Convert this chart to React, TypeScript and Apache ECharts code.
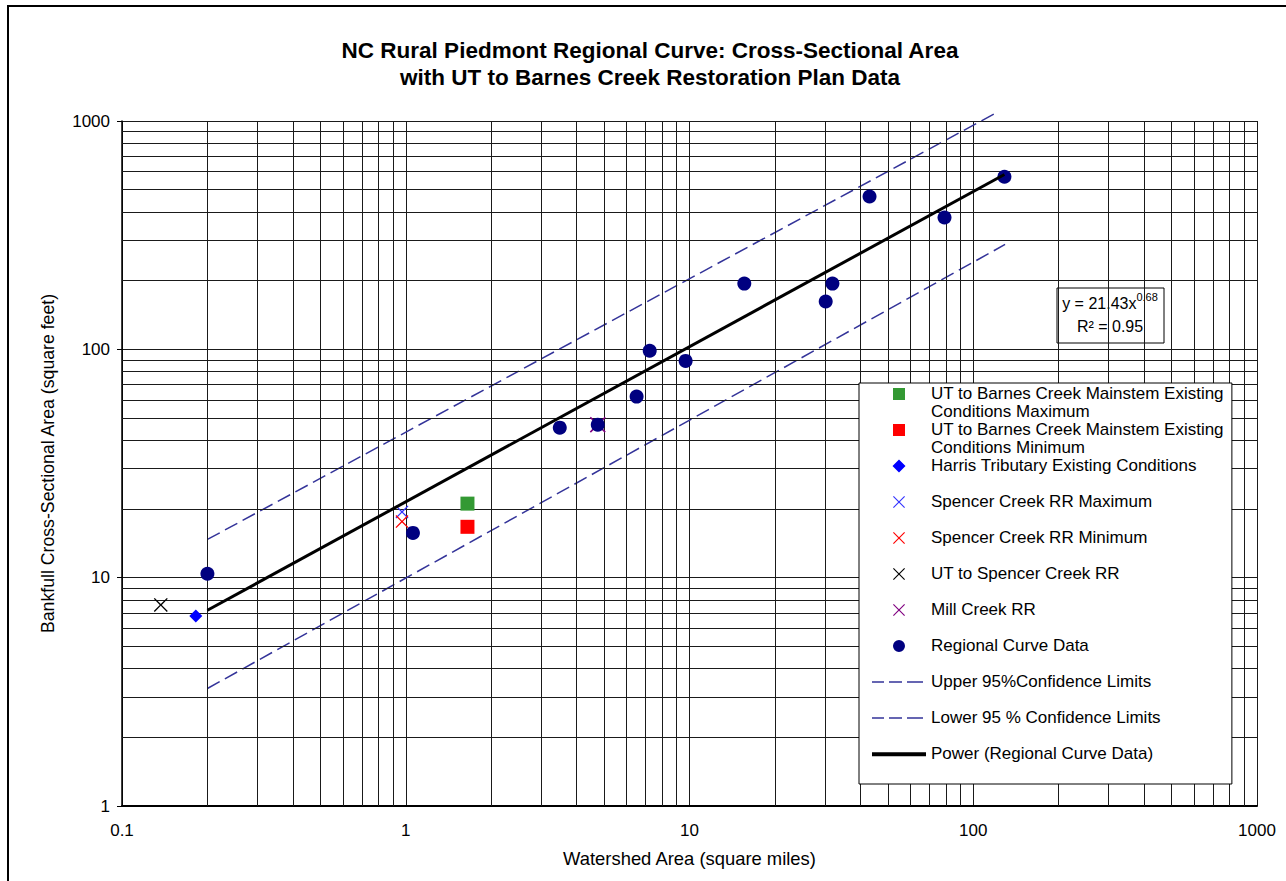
import React, { useEffect, useRef } from "react";
import * as echarts from "echarts";

const FONT = "'Liberation Sans', Arial, Helvetica, sans-serif";

// ---- data ----
const regionalX = [0.2, 1.06, 3.49, 4.75, 6.51, 7.24, 9.69, 15.6, 30.2, 31.9, 43.1, 79.2, 128.8];
const regionalY = [10.4, 15.7, 45.4, 46.8, 62.1, 98.6, 89.0, 194, 162, 194, 467, 378, 570];

const utMaxX = [1.65];
const utMaxY = [21.1];
const utMinX = [1.65];
const utMinY = [16.7];
const harrisX = [0.182];
const harrisY = [6.8];
const spencerMaxX = [0.97];
const spencerMaxY = [19.4];
const spencerMinX = [0.97];
const spencerMinY = [17.6];
const utSpencerX = [0.137];
const utSpencerY = [7.6];
const millX = [4.75];
const millY = [46.8];

const upperX = [0.2, 119];
const upperY = [14.7, 1077];
const lowerX = [0.2, 129.5];
const lowerY = [3.27, 288];
const powerX = [0.2, 128.8];
const powerY = [7.2, 583];

const xTicks = [0.1, 1, 10, 100, 1000];
const yTicks = [1, 10, 100, 1000];
const xMinorGrid = [0.2, 0.3, 0.4, 0.5, 0.6, 0.7, 0.8, 0.9, 2, 3, 4, 5, 6, 7, 8, 9, 20, 30, 40, 50, 60, 70, 80, 90, 200, 300, 400, 500, 600, 700, 800, 900];
const yMinorGrid = [2, 3, 4, 5, 6, 7, 8, 9, 20, 30, 40, 50, 60, 70, 80, 90, 200, 300, 400, 500, 600, 700, 800, 900];

const titleText = "NC Rural Piedmont Regional Curve: Cross-Sectional Area\nwith UT to Barnes Creek Restoration Plan Data";
const xAxisName = "Watershed Area (square miles)";
const yAxisName = "Bankfull Cross-Sectional Area (square feet)";
const names = [
  "UT to Barnes Creek Mainstem Existing\nConditions Maximum",
  "UT to Barnes Creek Mainstem Existing\nConditions Minimum",
  "Harris Tributary Existing Conditions",
  "Spencer Creek RR Maximum",
  "Spencer Creek RR Minimum",
  "UT to Spencer Creek RR",
  "Mill Creek RR",
  "Regional Curve Data",
  "Upper 95%Confidence Limits",
  "Lower 95 % Confidence Limits",
  "Power (Regional Curve Data)",
];
const eqLine1 = "y = 21.43x";
const eqExp = "0.68";
const eqLine2 = "R² = 0.95";

// plot marker shapes
const X_SYMBOL = "path://M0,0.7L0.7,0L5,4.3L9.3,0L10,0.7L5.7,5L10,9.3L9.3,10L5,5.7L0.7,10L0,9.3L4.3,5Z";

// legend icons, each drawn in a 54x36 box (corner strokes fix the box, zero area)
const BOX = "M0,0L0,36M54,0L54,36";
const L_SQUARE = "path://" + BOX + "M21,4h12v12h-12z";
const L_DIAMOND = "path://" + BOX + "M27,3.5L33.5,10L27,16.5L20.5,10Z";
const L_X = "path://" + BOX + "M21,4.8L21.8,4L27,9.2L32.2,4L33,4.8L27.8,10L33,15.2L32.2,16L27,10.8L21.8,16L21,15.2L26.2,10Z";
const L_CIRCLE = "path://" + BOX + "M33,10A6,6 0 1,1 21,10A6,6 0 1,1 33,10Z";
const L_DASH = "path://" + BOX + "M0,9.2h12v1.6h-12zM17,9.2h13v1.6h-13zM35,9.2h16v1.6h-16z";
const L_SOLID = "path://" + BOX + "M0,8h56v4h-56z";
const legendIcons = [L_SQUARE, L_SQUARE, L_DIAMOND, L_X, L_X, L_X, L_X, L_CIRCLE, L_DASH, L_DASH, L_SOLID];

const pairs = (xs: number[], ys: number[]) => xs.map((x, i) => [x, ys[i]]);

export default function App() {
  const ref = useRef<HTMLDivElement>(null);
  useEffect(() => {
    if (!ref.current) return;
    const chart = echarts.init(ref.current, undefined, { renderer: "svg" });
    const scatter = (name: string, xs: number[], ys: number[], symbol: string, size: number, color: string) => ({
      name,
      type: "scatter",
      data: pairs(xs, ys),
      symbol,
      symbolSize: size,
      itemStyle: { color, opacity: 1 },
      z: 5,
      silent: true,
    });
    const gridLine = { color: "#1a1a1a", width: 1, type: "solid" };
    const dash = [14, 6];
    const option: any = {
      animation: false,
      backgroundColor: "#ffffff",
      textStyle: { fontFamily: FONT },
      title: {
        text: titleText,
        left: 650,
        top: 37,
        padding: 0,
        textAlign: "center",
        textStyle: { fontFamily: FONT, fontSize: 22.5, fontWeight: "bold", lineHeight: 27, color: "#000" },
      },
      grid: { left: 122, right: 29, top: 121, bottom: 75, containLabel: false },
      xAxis: {
        type: "log",
        logBase: 10,
        min: xTicks[0],
        max: xTicks[xTicks.length - 1],
        name: xAxisName,
        nameLocation: "middle",
        nameGap: 43,
        nameTextStyle: { fontFamily: FONT, fontSize: 18.4, color: "#000" },
        axisLine: { show: true, onZero: false, lineStyle: { color: "#000", width: 2 } },
        axisTick: { show: false },
        axisLabel: { fontFamily: FONT, fontSize: 17, color: "#000", margin: 16, formatter: (v: number) => String(v) },
        splitLine: { show: true, lineStyle: gridLine },
      },
      yAxis: {
        type: "log",
        logBase: 10,
        min: yTicks[0],
        max: yTicks[yTicks.length - 1],
        name: yAxisName,
        nameLocation: "middle",
        nameGap: 65,
        nameTextStyle: { fontFamily: FONT, fontSize: 17.7, color: "#000" },
        axisLine: { show: true, onZero: false, lineStyle: { color: "#000", width: 1.5 } },
        axisTick: { show: true, length: 5, lineStyle: { color: "#000" } },
        axisLabel: { fontFamily: FONT, fontSize: 17, color: "#000", margin: 12, formatter: (v: number) => String(v) },
        splitLine: { show: true, lineStyle: gridLine },
      },
      legend: {
        orient: "vertical",
        left: 859,
        top: 383,
        padding: [1, 8, 4, 13],
        itemGap: 0,
        itemWidth: 54,
        itemHeight: 36,
        backgroundColor: "#ffffff",
        borderColor: "#000",
        borderWidth: 1,
        borderRadius: 0,
        selectedMode: false,
        itemStyle: { borderWidth: 0 },
        textStyle: { fontFamily: FONT, fontSize: 17, color: "#000", lineHeight: 18 },
        // single-line entries get an empty second line so every entry is top-aligned
        formatter: (name: string) => (name.indexOf("\n") >= 0 ? name : name + "\n "),
        data: names.map((n, i) => ({ name: n, icon: legendIcons[i] })),
        z: 20,
      },
      graphic: [
        {
          type: "rect",
          shape: { x: 8, y: 6, width: 1400, height: 1000 },
          style: { fill: "none", stroke: "#000", lineWidth: 2 },
          z: 100,
          silent: true,
        },
        {
          type: "group",
          z: 50,
          children: [
            {
              type: "rect",
              shape: { x: 1057, y: 288, width: 107, height: 55 },
              style: { fill: "#fff", stroke: "#000", lineWidth: 1 },
            },
            {
              type: "text",
              x: 1110,
              y: 301,
              style: {
                text: "{a|" + eqLine1 + "}{s|" + eqExp + "}",
                align: "center",
                verticalAlign: "middle",
                fill: "#000",
                rich: {
                  a: { fontFamily: FONT, fontSize: 16, lineHeight: 20, verticalAlign: "bottom", fill: "#000" },
                  s: { fontFamily: FONT, fontSize: 11, lineHeight: 20, verticalAlign: "top", fill: "#000" },
                },
              },
            },
            {
              type: "text",
              x: 1110,
              y: 326,
              style: {
                text: eqLine2,
                align: "center",
                verticalAlign: "middle",
                fill: "#000",
                font: "16px " + FONT,
              },
            },
          ],
        },
      ],
      series: [
        {
          name: "gridlines",
          type: "line",
          data: [],
          silent: true,
          z: 1,
          markLine: {
            silent: true,
            symbol: ["none", "none"],
            label: { show: false },
            lineStyle: gridLine,
            emphasis: { disabled: true },
            animation: false,
            data: [
              ...xMinorGrid.map((v) => ({ xAxis: v })),
              ...yMinorGrid.map((v) => ({ yAxis: v })),
            ],
          },
        },
        scatter(names[0], utMaxX, utMaxY, "rect", 14, "#339933"),
        scatter(names[1], utMinX, utMinY, "rect", 14, "#ff0000"),
        scatter(names[2], harrisX, harrisY, "diamond", 13, "#0000ff"),
        scatter(names[3], spencerMaxX, spencerMaxY, X_SYMBOL, 13, "#3333ff"),
        scatter(names[4], spencerMinX, spencerMinY, X_SYMBOL, 13, "#ff0000"),
        scatter(names[5], utSpencerX, utSpencerY, X_SYMBOL, 14, "#000000"),
        scatter(names[6], millX, millY, X_SYMBOL, 16, "#800080"),
        scatter(names[7], regionalX, regionalY, "circle", 14, "#000080"),
        {
          name: names[8],
          type: "line",
          data: pairs(upperX, upperY),
          symbol: "none",
          clip: false,
          silent: true,
          z: 4,
          itemStyle: { color: "#333399" },
          lineStyle: { color: "#333399", width: 1.5, type: dash },
        },
        {
          name: names[9],
          type: "line",
          data: pairs(lowerX, lowerY),
          symbol: "none",
          clip: false,
          silent: true,
          z: 4,
          itemStyle: { color: "#333399" },
          lineStyle: { color: "#333399", width: 1.5, type: dash },
        },
        {
          name: names[10],
          type: "line",
          data: pairs(powerX, powerY),
          symbol: "none",
          silent: true,
          z: 6,
          itemStyle: { color: "#000" },
          lineStyle: { color: "#000", width: 3 },
        },
      ],
    };
    chart.setOption(option);
    return () => chart.dispose();
  }, []);
  return (
    <div style={{ position: "fixed", left: 0, top: 0, width: 1286, height: 881, overflow: "hidden", background: "#fff" }}>
      <div ref={ref} style={{ width: 1286, height: 881 }} />
    </div>
  );
}
